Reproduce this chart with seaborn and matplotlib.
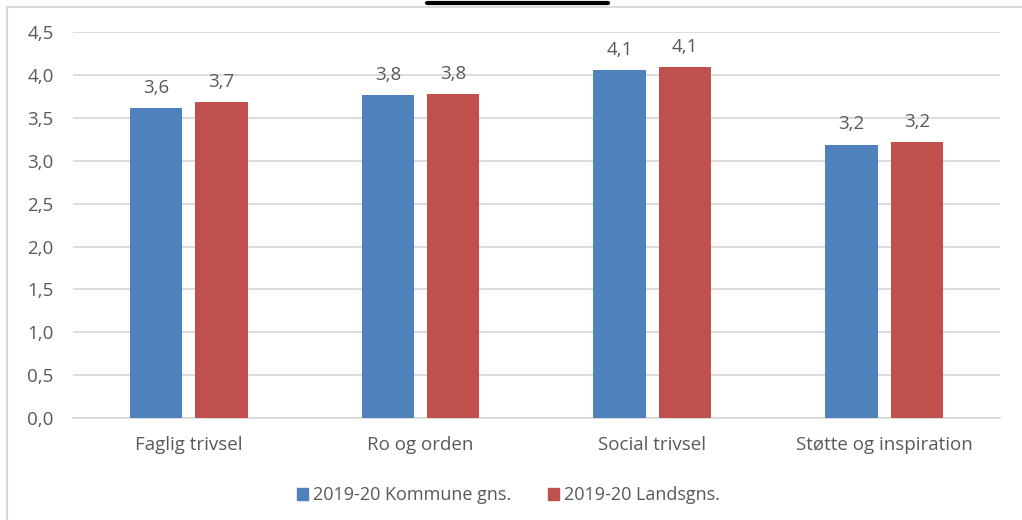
import matplotlib
matplotlib.use("Agg")
import matplotlib.pyplot as plt
from matplotlib.lines import Line2D
from matplotlib.patches import Rectangle
import seaborn as sns
import pandas as pd

# data
categories = ["Faglig trivsel", "Ro og orden", "Social trivsel", "Støtte og inspiration"]
series = ["2019-20 Kommune gns.", "2019-20 Landsgns."]
kommune = [3.62, 3.77, 4.06, 3.19]
lands = [3.69, 3.78, 4.09, 3.22]
yticks = [0.0, 0.5, 1.0, 1.5, 2.0, 2.5, 3.0, 3.5, 4.0, 4.5]
colors = ["#4F81BD", "#C0504D"]

df = pd.DataFrame({
    "kategori": categories * 2,
    "serie": [series[0]] * len(categories) + [series[1]] * len(categories),
    "verdi": kommune + lands,
})

sns.set_style("white")
plt.rcParams["font.family"] = ["Open Sans", "DejaVu Sans"]
txt = "#595959"

fig = plt.figure(figsize=(10.22, 5.2), dpi=100)
ax = fig.add_axes([0.0714, 0.196, 0.907, 0.742])

sns.barplot(data=df, x="kategori", y="verdi", hue="serie", order=categories,
            hue_order=series, palette=colors, width=0.565, gap=0.2,
            saturation=1, ax=ax, zorder=3, linewidth=0)

ax.set_ylim(0, 4.5)
ax.set_xlim(-0.5, len(categories) - 0.5)
ax.set_yticks(yticks)
ax.set_yticklabels([f"{v:.1f}".replace(".", ",") for v in yticks])
ax.grid(axis="y", color="#D9D9D9", linewidth=1.3, zorder=0)
ax.set_xlabel("")
ax.set_ylabel("")
for s in ["top", "right", "left"]:
    ax.spines[s].set_visible(False)
ax.spines["bottom"].set_color("#D9D9D9")
ax.spines["bottom"].set_linewidth(1.3)
ax.tick_params(axis="both", length=0, labelsize=13.5, colors=txt)
ax.tick_params(axis="x", pad=13)
ax.tick_params(axis="y", pad=14)

for cont in ax.containers:
    ax.bar_label(cont, labels=[f"{b.get_height():.1f}".replace(".", ",") for b in cont],
                 padding=8, fontsize=13.5, color=txt)

handles = [Rectangle((0, 0), 1, 1, color=c) for c in colors]
ax.legend(handles, series, loc="center", bbox_to_anchor=(0.47, -0.2), ncol=2,
          frameon=False, fontsize=13, labelcolor=txt, handlelength=0.6,
          handleheight=0.6, handletextpad=0.3, columnspacing=2.0)

# outer chart frame and the underline of the cropped-off title
fig.add_artist(Rectangle((0.0068, -0.05), 1.2, 1.037, transform=fig.transFigure,
                         fill=False, edgecolor="#D9D9D9", linewidth=1.5))
fig.add_artist(Line2D([0.418, 0.595], [0.994, 0.994], transform=fig.transFigure,
                      color="black", linewidth=3))

fig.savefig("out.png", dpi=100)
